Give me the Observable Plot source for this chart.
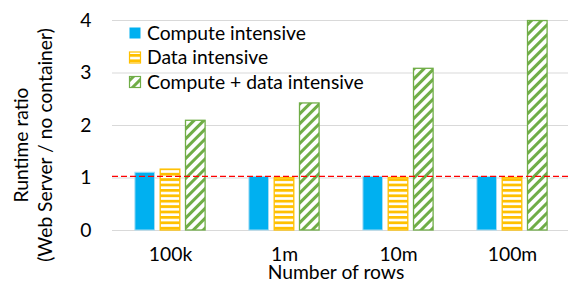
<!DOCTYPE html>
<html><head><meta charset="utf-8">
<script src="https://cdn.jsdelivr.net/npm/d3@7"></script>
<script src="https://cdn.jsdelivr.net/npm/@observablehq/plot@0.6"></script>
<style>
body{margin:0;overflow:hidden;background:#fff}
#chart{position:relative;width:568px;height:281px}
</style></head><body>
<svg width="0" height="0" style="position:absolute"><defs>
<pattern id="hz" patternUnits="userSpaceOnUse" width="8" height="5.4"><rect width="8" height="5.4" fill="#fff"/><rect y="0" width="8" height="2.8" fill="#FFC000"/></pattern>
<pattern id="dg" patternUnits="userSpaceOnUse" width="7" height="7" patternTransform="rotate(45)"><rect width="7" height="7" fill="#fff"/><rect width="3" height="7" fill="#70AD47"/></pattern>
</defs></svg>
<div id="chart"></div>
<script>
const rows = ["100k", "1m", "10m", "100m"];
const series = ["Compute intensive", "Data intensive", "Compute + data intensive"];
const computeIntensive = [1.10, 1.02, 1.02, 1.02];
const dataIntensive = [1.16, 1.00, 1.00, 1.00];
const computeDataIntensive = [2.09, 2.42, 3.08, 3.99];
const yTicks = [0, 1, 2, 3, 4];
const referenceLine = 1.03;

const font = "Lato, 'Open Sans', sans-serif";
const fs = 19.3;
const tbl = (vals) => rows.map((r, i) => ({row: r, v: vals[i]}));
const bw = 114.4, barW = 20, inset = (bw - barW) / 2, off = 25.3;

const plot = Plot.plot({
  width: 568, height: 281,
  marginLeft: 112, marginRight: 0, marginTop: 20, marginBottom: 51,
  style: {fontFamily: font, fontSize: fs + "px", background: "#fff", overflow: "visible"},
  x: {domain: rows, range: [112, 112 + 4 * bw], padding: 0},
  y: {domain: [0, 4], range: [230, 20]},
  marks: [
    Plot.ruleY(yTicks, {stroke: "#d9d9d9", strokeWidth: 1.2}),
    Plot.barY(tbl(computeIntensive), {x: "row", y: "v", fill: "#00B0F0", stroke: "#a6dcf3", strokeWidth: 1, insetLeft: inset, insetRight: inset, dx: -off}),
    Plot.barY(tbl(dataIntensive), {x: "row", y: "v", fill: "url(#hz)", stroke: "#FFC000", strokeWidth: 1.3, insetLeft: inset, insetRight: inset, dx: 0}),
    Plot.barY(tbl(computeDataIntensive), {x: "row", y: "v", fill: "url(#dg)", stroke: "#70AD47", strokeWidth: 1.3, insetLeft: inset, insetRight: inset, dx: off}),
    Plot.ruleY([referenceLine], {stroke: "#f00", strokeDasharray: "6,3", strokeWidth: 1.3}),
    Plot.axisY({ticks: yTicks, tickSize: 0, tickPadding: 21, fontSize: fs, label: null, tickFormat: d => String(d)}),
    Plot.axisX({tickSize: 0, tickPadding: 17, fontSize: fs, label: null})
  ]
});
document.getElementById("chart").appendChild(plot);

const svg = d3.select(plot);
// axis titles
svg.append("text").attr("transform", "translate(336,279)").attr("text-anchor", "middle")
  .attr("font-family", font).attr("font-size", fs).attr("fill", "#000").text("Number of rows");
const yt = [["Runtime ratio", 28], ["(Web Server / no container)", 52]];
yt.forEach(([t, x]) => svg.append("text").attr("transform", `translate(${x},145) rotate(-90)`)
  .attr("text-anchor", "middle").attr("font-family", font).attr("font-size", fs).attr("fill", "#000").text(t));

// legend
const lg = svg.append("g").attr("text-anchor", "start");
const lfill = ["#00B0F0", "url(#hz)", "url(#dg)"];
const lstroke = ["none", "#FFC000", "#70AD47"];
series.forEach((s, i) => {
  const cy = 33 + i * 24.5;
  lg.append("rect").attr("x", 129.5).attr("y", cy - 5.5).attr("width", 11).attr("height", 11)
    .attr("fill", lfill[i]).attr("stroke", lstroke[i]).attr("stroke-width", 1.2);
  lg.append("text").attr("x", 147).attr("y", cy + 6.5).attr("text-anchor", "start")
    .attr("font-family", font).attr("font-size", fs).attr("fill", "#000").text(s);
});
</script>
</body></html>
